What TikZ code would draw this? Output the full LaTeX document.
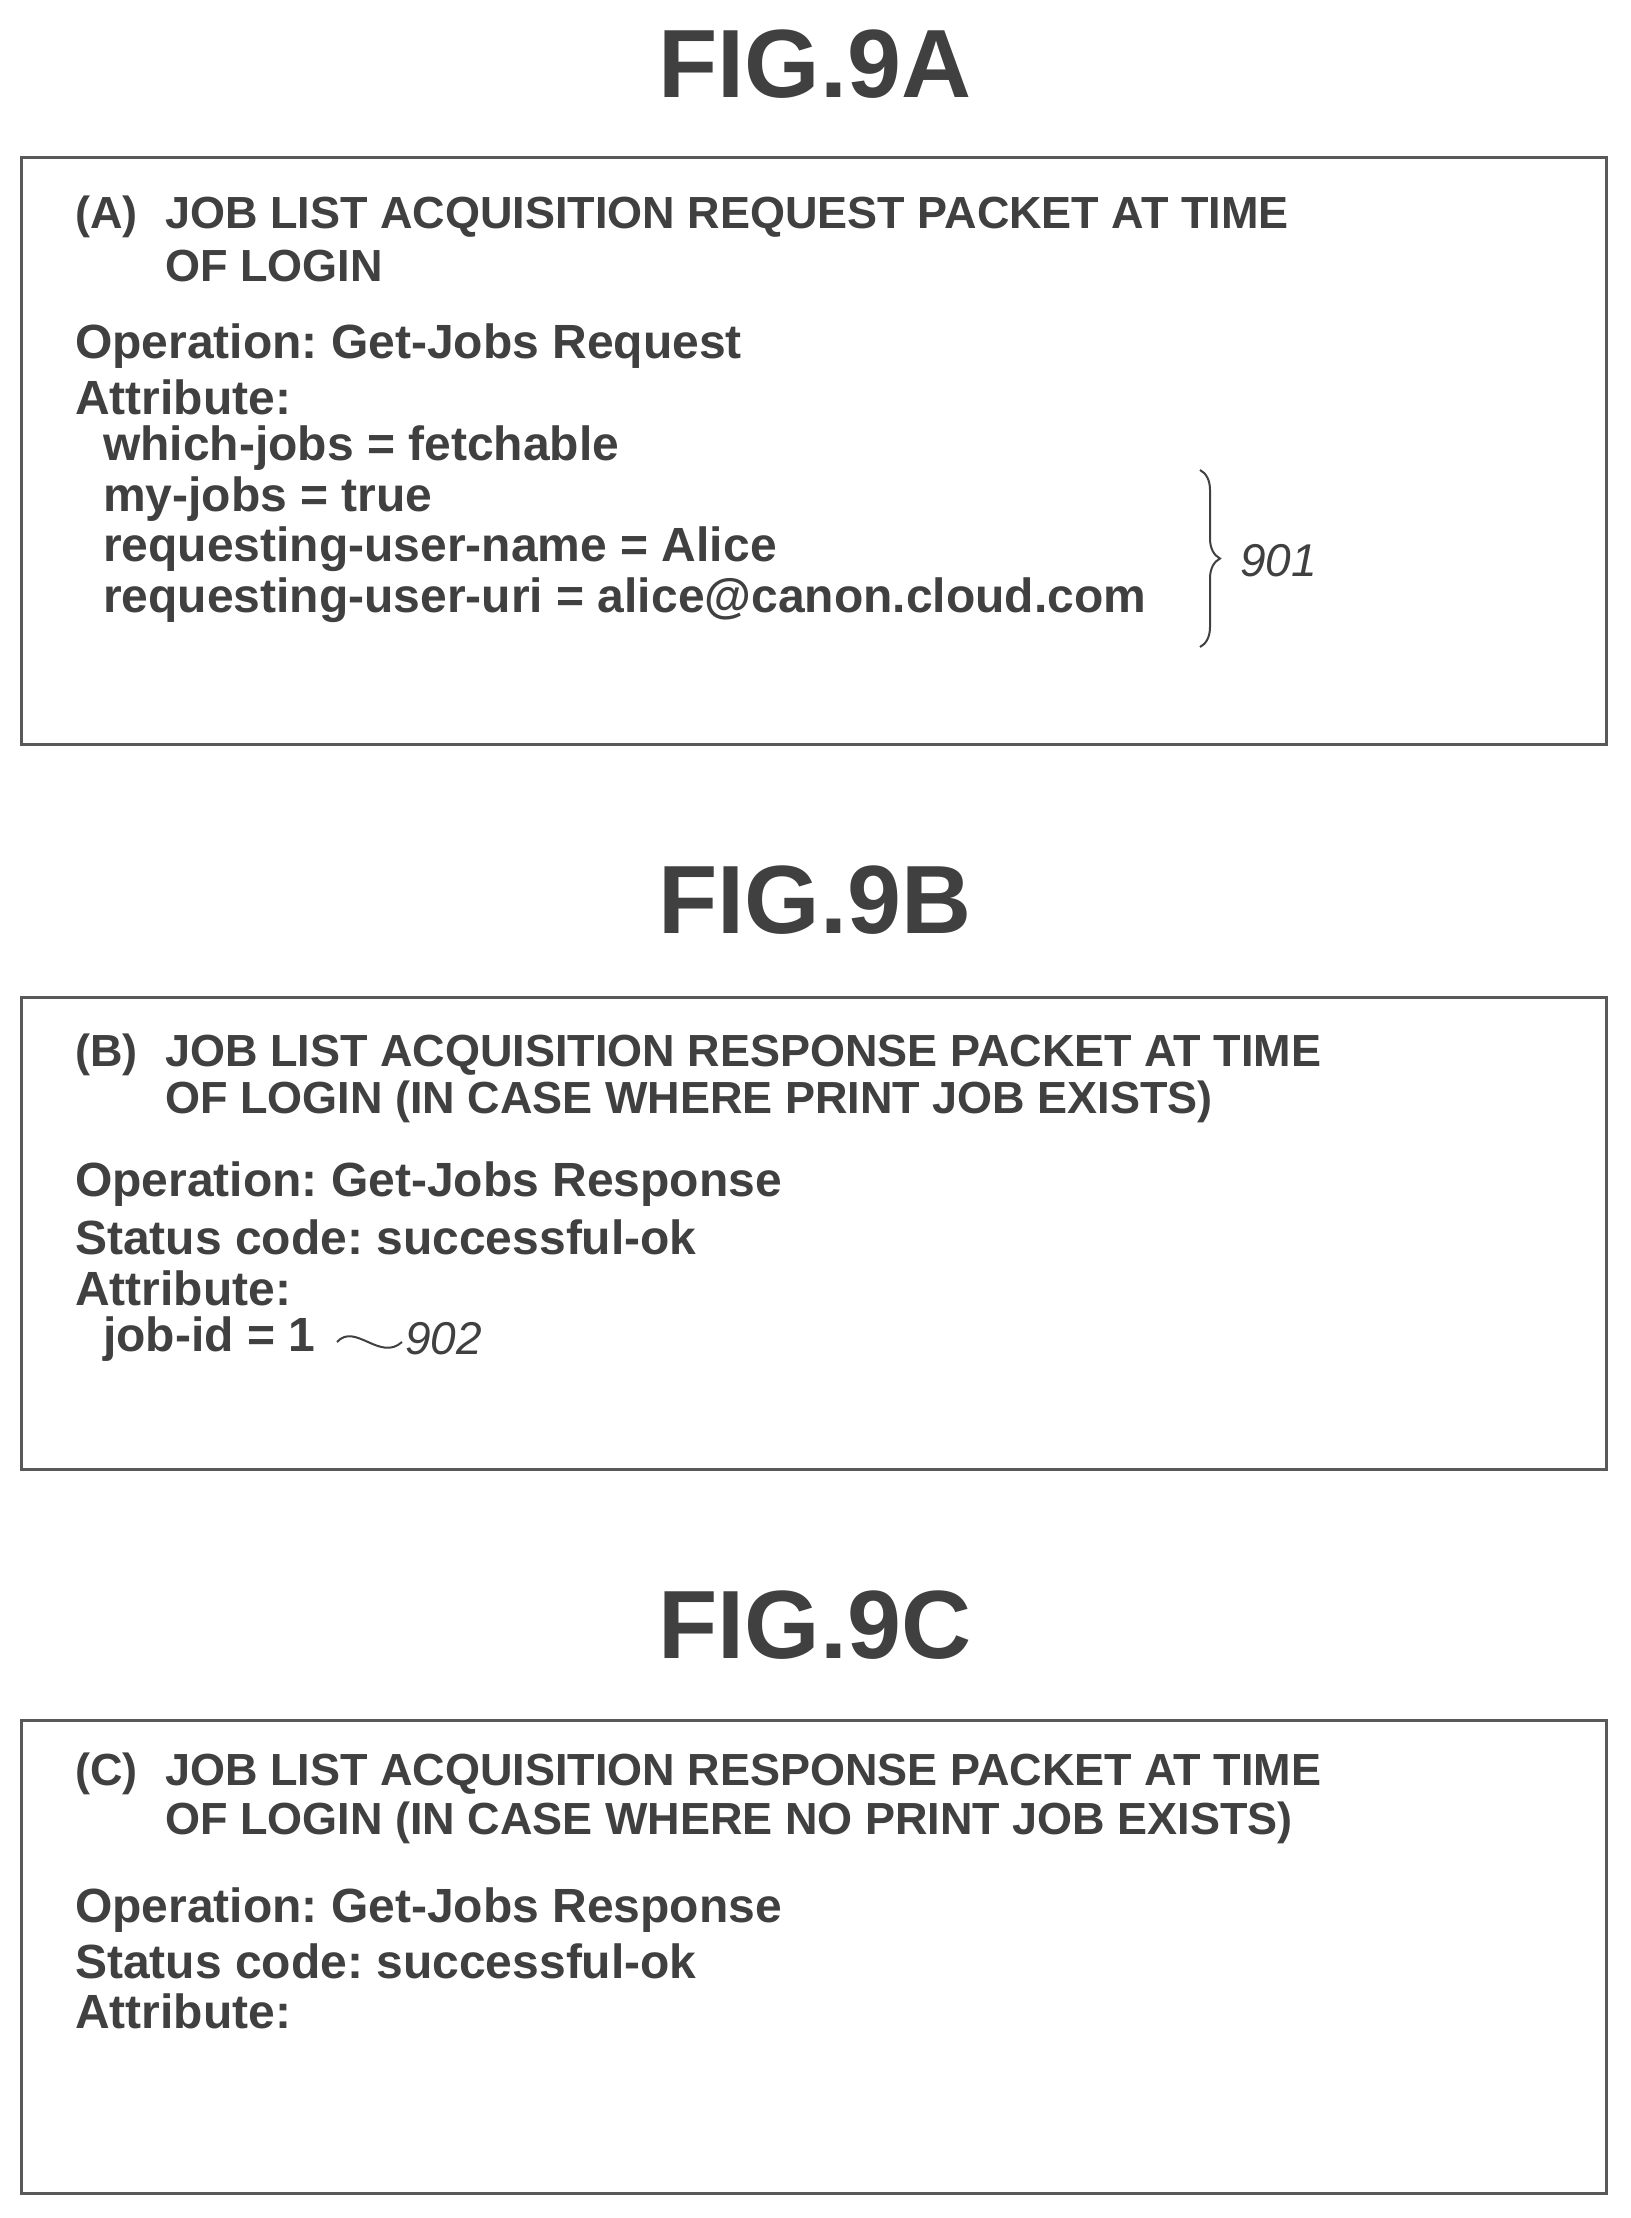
\documentclass[tikz,border=0pt]{standalone}
\usepackage{fontspec}
\setmainfont{Liberation Sans}
\usetikzlibrary{decorations.pathreplacing}
\frenchspacing
\begin{document}
\begin{tikzpicture}[x=1pt,y=-1pt,
  fig/.style={font=\fontsize{97}{100}\selectfont\bfseries, text=black!75},
  txt/.style={anchor=west, inner sep=0pt, font=\fontsize{48}{50}\selectfont\bfseries, text=black!75},
  hd/.style={anchor=west, inner sep=0pt, font=\fontsize{45}{47}\selectfont\bfseries, text=black!75},
  lbl/.style={anchor=west, inner sep=0pt, font=\fontsize{46}{48}\selectfont\itshape, text=black!75},
  frame/.style={draw=black!65, line width=3pt}]
\useasboundingbox (0,0) rectangle (1630,2218);
\node[fig] (fa) at (815,64) {FIG.9A};
\node[fig] (fb) at (815,900) {FIG.9B};
\node[fig] (fc) at (815,1625) {FIG.9C};
\draw[frame] (21,158) rectangle (1606,744);
\draw[frame] (21,997) rectangle (1606,1469);
\draw[frame] (21,1720) rectangle (1606,2193);
% A
\node[hd] (a0) at (75,217) {(A)};
\node[hd] (a1) at (165,217) {JOB LIST ACQUISITION REQUEST PACKET AT TIME};
\node[hd] (a2) at (165,266) {OF LOGIN};
\node[txt] (a3) at (75,346) {Operation: Get-Jobs Request};
\node[txt] (a4) at (75,397) {Attribute:};
\node[txt] (a5) at (103,448) {which-jobs = fetchable};
\node[txt] (a6) at (103,499) {my-jobs = true};
\node[txt] (a7) at (103,549) {requesting-user-name = Alice};
\node[txt] (a8) at (103,600) {requesting-user-uri = alice@canon.cloud.com};
\draw[black!75, line width=2pt, decorate, decoration={brace, amplitude=20pt}] (1200,470) -- (1200,647);
\node[lbl] (l901) at (1240,561) {901};
% B
\node[hd] (b0) at (75,1055) {(B)};
\node[hd] (b1) at (165,1055) {JOB LIST ACQUISITION RESPONSE PACKET AT TIME};
\node[hd] (b2) at (165,1102) {OF LOGIN (IN CASE WHERE PRINT JOB EXISTS)};
\node[txt] (b3) at (75,1184) {Operation: Get-Jobs Response};
\node[txt] (b4) at (75,1237) {Status code: successful-ok};
\node[txt] (b5) at (75,1288) {Attribute:};
\node[txt] (b6) at (103,1339) {job-id = 1};
\coordinate (t1) at (337,1342);
\coordinate (t2) at (402,1342);
\draw[black!75, line width=2pt] (t1) .. controls (355,1322) and (380,1362) .. (t2);
\node[lbl] (l902) at (405,1339) {902};
% C
\node[hd] (c0) at (75,1774) {(C)};
\node[hd] (c1) at (165,1774) {JOB LIST ACQUISITION RESPONSE PACKET AT TIME};
\node[hd] (c2) at (165,1823) {OF LOGIN (IN CASE WHERE NO PRINT JOB EXISTS)};
\node[txt] (c3) at (75,1910) {Operation: Get-Jobs Response};
\node[txt] (c4) at (75,1961) {Status code: successful-ok};
\node[txt] (c5) at (75,2011) {Attribute:};
\end{tikzpicture}
\end{document}
